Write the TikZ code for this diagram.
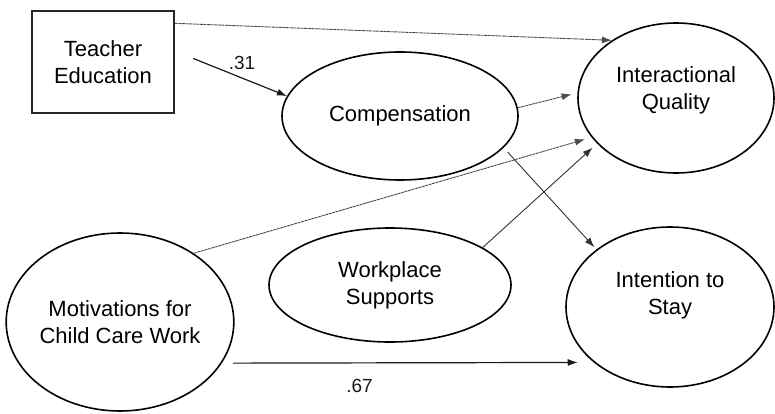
\documentclass[tikz,border=0pt]{standalone}
\usepackage{fontspec}
\setmainfont{Liberation Sans}
\usetikzlibrary{shapes.geometric,arrows.meta}

\tikzset{
  var/.style={draw, ellipse, line width=1.6pt, inner sep=0pt, align=center,
    font=\fontsize{22}{27}\selectfont},
  obs/.style={draw=black!85, rectangle, line width=1.4pt, inner sep=0pt, align=center,
    font=\fontsize{22}{27}\selectfont},
  coef/.style={font=\fontsize{19}{22}\selectfont, inner sep=0pt},
  strong/.style={-{Latex[length=10pt,width=7pt]}, line width=1.2pt, black!90},
  weak/.style={-{Latex[length=10pt,width=7pt]}, line width=0.9pt, black!70,
    dash pattern=on 3pt off 0.6pt},
  plain/.style={-{Latex[length=10pt,width=7pt]}, line width=0.9pt, black!80}
}

\begin{document}
\begin{tikzpicture}[x=1pt,y=-1pt]
\useasboundingbox (0,0) rectangle (775,414);

\node[obs, minimum width=142pt, minimum height=102pt] (te) at (103,62) {Teacher\\Education};
\node[var, minimum width=236pt, minimum height=128pt] (comp) at (400,116) {Compensation};
\node[var, minimum width=196pt, minimum height=150pt, text depth=19pt] (iq) at (676,98) {Interactional\\Quality};
\node[var, minimum width=242pt, minimum height=114pt] (wp) at (390,285) {Workplace\\Supports};
\node[var, minimum width=216pt, minimum height=178pt] (mot) at (120,322) {Motivations for\\Child Care Work};
\node[var, minimum width=208pt, minimum height=160pt, text depth=27pt] (is) at (670,307) {Intention to\\Stay};

% paths
\draw[weak] ([yshift=-13pt]te.north east) -- (iq.138);
\draw[strong, shorten <=20pt] ([yshift=11pt]te.east) -- node[coef, pos=0.6, above=8pt] (l31) {.31} (comp.170);
\draw[weak, shorten >=6pt] (comp.4) -- (iq.177);
\draw[plain, shorten <=6pt, shorten >=3pt] (comp.-17) -- (is.142);
\draw[weak, shorten >=7pt] (mot.43) -- (iq.205);
\draw[plain, shorten >=6pt] (wp.22) -- (iq.210);
\draw[strong, shorten <=11pt, shorten >=16pt] (mot.-22.5) -- node[coef, pos=0.37, below=16pt] (l67) {.67} (is.-144);

\end{tikzpicture}
\end{document}
